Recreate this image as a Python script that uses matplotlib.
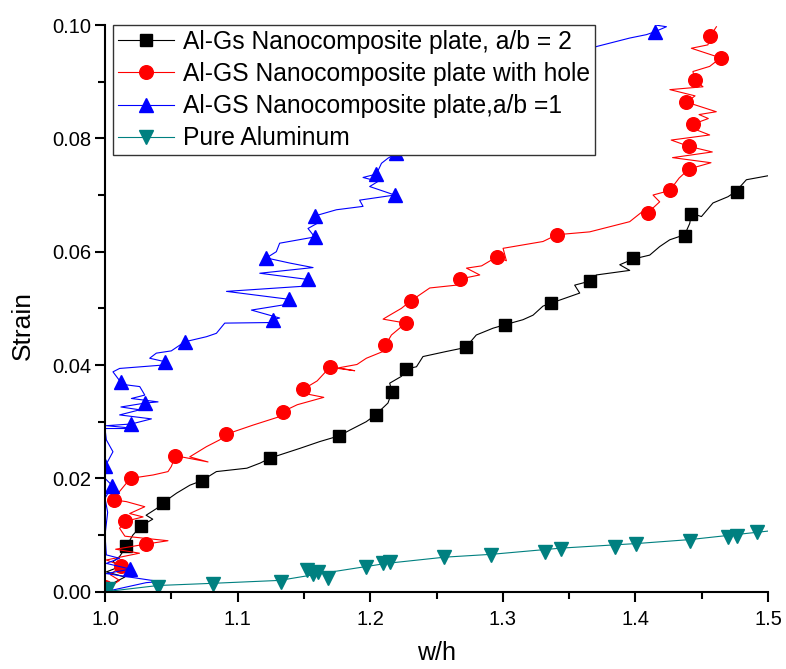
import numpy as np
import matplotlib
matplotlib.use('Agg')
import matplotlib.pyplot as plt
from matplotlib.ticker import MultipleLocator

plt.rcParams['font.family'] = ['Liberation Sans', 'DejaVu Sans']

# Al-Gs plate a/b = 2 (black squares)
black_x = [1.000, 1.006, 1.015, 1.001, 1.011, 1.006, 1.011, 1.016, 1.021, 1.0274, 1.036, 1.031, 1.039, 1.0437,
           1.054, 1.064, 1.073, 1.084, 1.107, 1.117, 1.1247, 1.147, 1.162, 1.1765, 1.1845, 1.197, 1.204, 1.2134,
           1.2164, 1.2147, 1.2235, 1.2273, 1.2349, 1.2398, 1.2575, 1.272, 1.280, 1.2926, 1.3014, 1.3152, 1.3228,
           1.3303, 1.3361, 1.358, 1.3542, 1.3655, 1.3706, 1.3957, 1.3882, 1.3982, 1.4108, 1.4183, 1.4259, 1.4372,
           1.441, 1.4422, 1.4498, 1.4585, 1.4698, 1.4756, 1.4837, 1.500]
black_y = [0.000, 0.0015, 0.0026, 0.0035, 0.0044, 0.0053, 0.0062, 0.0080, 0.0100, 0.01165, 0.0128, 0.0135, 0.0147,
           0.0157, 0.0174, 0.0188, 0.0196, 0.0212, 0.0218, 0.0227, 0.0236, 0.0253, 0.0265, 0.0275, 0.0285, 0.0300,
           0.0312, 0.0333, 0.0353, 0.0368, 0.0380, 0.0393, 0.0397, 0.0415, 0.0424, 0.0431, 0.0453, 0.0465, 0.0471,
           0.0480, 0.0488, 0.0504, 0.0509, 0.0527, 0.0541, 0.0548, 0.0559, 0.0567, 0.0577, 0.0587, 0.0594, 0.0609,
           0.0621, 0.0630, 0.0650, 0.0668, 0.0662, 0.0686, 0.0697, 0.0706, 0.0727, 0.0734]
black_mx = [1.016, 1.0274, 1.0437, 1.073, 1.1247, 1.1765, 1.204, 1.2167, 1.2273, 1.272, 1.3014, 1.3367, 1.3655,
            1.398, 1.4377, 1.4422, 1.4766]
black_my = [0.0080, 0.01165, 0.0157, 0.0196, 0.02355, 0.0275, 0.0312, 0.0353, 0.0393, 0.0431, 0.0471, 0.0509,
            0.0548, 0.0589, 0.0627, 0.0666, 0.0705]

# Al-GS plate with hole (red circles)
red_x = [1.000, 1.003, 1.011, 1.004, 1.0124, 1.001, 1.026, 1.008, 1.0307, 1.0475, 1.015, 1.011, 1.0149, 1.0287,
         1.0186, 1.030, 1.0161, 1.0066, 1.011, 1.0191, 1.0362, 1.0475, 1.050, 1.0531, 1.0777, 1.0639, 1.0765,
         1.0865, 1.0916, 1.1116, 1.1317, 1.1342, 1.145, 1.165, 1.150, 1.1493, 1.160, 1.1695, 1.1883, 1.176, 1.190,
         1.1971, 1.2097, 1.2115, 1.216, 1.2268, 1.2097, 1.2147, 1.2235, 1.2305, 1.2449, 1.265, 1.268, 1.2826,
         1.2726, 1.284, 1.2956, 1.3027, 1.3002, 1.3303, 1.3409, 1.3655, 1.3957, 1.407, 1.4095, 1.4183, 1.4133,
         1.4259, 1.433, 1.4404, 1.457, 1.428, 1.458, 1.4402, 1.427, 1.456, 1.446, 1.4434, 1.455, 1.448, 1.461,
         1.4385, 1.445, 1.426, 1.451, 1.4447, 1.4434, 1.456, 1.4643, 1.4422, 1.4547, 1.4566, 1.4611]
red_y = [0.000, 0.0008, 0.0020, 0.0030, 0.0046, 0.0056, 0.0068, 0.0075, 0.0084, 0.0090, 0.0098, 0.0112, 0.0124,
         0.0132, 0.0138, 0.0150, 0.0159, 0.0162, 0.0177, 0.0200, 0.0206, 0.0212, 0.0221, 0.0240, 0.0229, 0.0238,
         0.0256, 0.0268, 0.0278, 0.0294, 0.0309, 0.0318, 0.0330, 0.0343, 0.0350, 0.0357, 0.0372, 0.0396, 0.0390,
         0.0395, 0.0401, 0.0412, 0.0424, 0.0435, 0.0453, 0.0474, 0.0481, 0.0488, 0.0500, 0.0513, 0.0536, 0.0541,
         0.0552, 0.0559, 0.0571, 0.0575, 0.0591, 0.0584, 0.0606, 0.0618, 0.0630, 0.0635, 0.0653, 0.0674, 0.0669,
         0.0688, 0.0700, 0.0708, 0.0730, 0.0746, 0.0757, 0.0766, 0.0776, 0.0786, 0.0797, 0.0806, 0.0815, 0.0825,
         0.0835, 0.0842, 0.0847, 0.0864, 0.0875, 0.0886, 0.0891, 0.0903, 0.0918, 0.0927, 0.0942, 0.0959, 0.0965,
         0.0981, 0.0997]
red_mx = [1.000, 1.0118, 1.0307, 1.0149, 1.0066, 1.0199, 1.0531, 1.0916, 1.1342, 1.1493, 1.1695, 1.2115, 1.2273,
          1.2305, 1.268, 1.2956, 1.3409, 1.4095, 1.4259, 1.4404, 1.4402, 1.4434, 1.4385, 1.4447, 1.4643, 1.4566]
red_my = [0.0008, 0.0045, 0.0084, 0.0124, 0.0162, 0.0201, 0.0240, 0.0278, 0.0318, 0.0357, 0.0396, 0.0435, 0.0474,
          0.0513, 0.0552, 0.0591, 0.0630, 0.0668, 0.0708, 0.0746, 0.0786, 0.0825, 0.0864, 0.0903, 0.0942, 0.0981]

# Al-GS plate a/b = 1 (blue triangles)
blue_x = [1.000, 1.031, 1.041, 1.001, 1.0191, 1.001, 1.011, 1.001, 1.000, 1.002, 1.000, 1.0056, 1.000, 1.000,
          1.006, 1.001, 1.000, 1.0237, 1.001, 1.0199, 1.035, 1.011, 1.0262, 1.012, 1.0305, 1.040, 1.0199, 1.030,
          1.0262, 1.0161, 1.0118, 1.006, 1.011, 1.0437, 1.045, 1.0337, 1.0387, 1.050, 1.0601, 1.0765, 1.084,
          1.0903, 1.1242, 1.1267, 1.1317, 1.1104, 1.1342, 1.1388, 1.0916, 1.1557, 1.1531, 1.1167, 1.1569, 1.1393,
          1.1217, 1.1292, 1.1317, 1.1581, 1.1531, 1.160, 1.1581, 1.1745, 1.1946, 1.192, 1.2185, 1.1996, 1.2059,
          1.1946, 1.2047, 1.2085, 1.2134, 1.2198, 1.25, 1.30, 1.34, 1.3706, 1.3957, 1.4083, 1.4145, 1.4234, 1.415,
          1.425]
blue_y = [0.000, 0.0016, 0.0018, 0.0032, 0.0040, 0.0050, 0.0059, 0.0065, 0.0100, 0.0140, 0.0165, 0.0187, 0.0200,
          0.0221, 0.0247, 0.0268, 0.0288, 0.0288, 0.0293, 0.0296, 0.0305, 0.0312, 0.0321, 0.0326, 0.0333, 0.0335,
          0.0341, 0.0347, 0.0362, 0.0365, 0.0370, 0.0388, 0.0394, 0.0400, 0.0406, 0.0412, 0.0421, 0.0425, 0.0441,
          0.0450, 0.0456, 0.0474, 0.0475, 0.0480, 0.0483, 0.0497, 0.0506, 0.0516, 0.0530, 0.0540, 0.0551, 0.0562,
          0.0572, 0.0580, 0.0589, 0.0600, 0.0615, 0.0626, 0.0641, 0.0650, 0.0663, 0.0674, 0.0680, 0.0691, 0.0700,
          0.0715, 0.0724, 0.0731, 0.0737, 0.0756, 0.0765, 0.0774, 0.0820, 0.0880, 0.0930, 0.0962, 0.0977, 0.0983,
          0.0988, 0.0997, 0.1000, 0.1003]
blue_mx = [1.0191, 1.0056, 1.000, 1.0199, 1.0305, 1.0118, 1.045, 1.0601, 1.1267, 1.1388, 1.1531, 1.1217, 1.1581,
           1.1581, 1.2185, 1.2047, 1.2198, 1.4145]
blue_my = [0.0040, 0.0187, 0.0221, 0.0296, 0.0333, 0.0370, 0.0406, 0.0441, 0.0480, 0.0516, 0.0551, 0.0589, 0.0626,
           0.0663, 0.0700, 0.0737, 0.0774, 0.0988]

# Pure aluminum (teal down triangles)
teal_x = [1.000, 1.040, 1.0827, 1.1317, 1.160, 1.2122, 1.2562, 1.2914, 1.3442, 1.4007, 1.441, 1.500]
teal_y = [0.000, 0.0011, 0.0015, 0.0020, 0.0031, 0.0050, 0.0061, 0.0066, 0.0077, 0.0085, 0.0092, 0.0107]
teal_mx = [1.002, 1.040, 1.0814, 1.1325, 1.152, 1.157, 1.161, 1.168, 1.1966, 1.2097, 1.2147, 1.2557, 1.2914,
           1.3316, 1.3442, 1.3844, 1.4007, 1.4415, 1.4698, 1.4766, 1.492]
teal_my = [0.0004, 0.0009, 0.0013, 0.0017, 0.0038, 0.0032, 0.0034, 0.0024, 0.0043, 0.0050, 0.0053, 0.0061, 0.0065,
           0.0070, 0.0075, 0.0079, 0.0085, 0.0090, 0.0096, 0.0099, 0.0105]

labels = ['Al-Gs Nanocomposite plate, a/b = 2',
          'Al-GS Nanocomposite plate with hole',
          'Al-GS Nanocomposite plate,a/b =1',
          'Pure Aluminum']

fig = plt.figure(figsize=(7.86, 6.69), dpi=100)
ax = fig.add_axes([0.1336, 0.1155, 0.8435, 0.8471])

series = [
    (black_x, black_y, black_mx, black_my, 'black', 's', 8.4),
    (red_x, red_y, red_mx, red_my, 'red', 'o', 9.8),
    (blue_x, blue_y, blue_mx, blue_my, 'blue', '^', 10),
    (teal_x, teal_y, teal_mx, teal_my, '#008080', 'v', 9.6),
]
handles = []
for (lx, ly, mx, my, c, m, ms), lab in zip(series, labels):
    ax.plot(lx, ly, color=c, lw=0.8)
    ax.plot(mx, my, ls='none', marker=m, ms=ms, color=c, mec=c)
    # proxy for the legend: line + marker
    h, = ax.plot([], [], color=c, lw=0.8, marker=m, ms=ms, mec=c, label=lab)
    handles.append(h)

ax.set_xlim(1.0, 1.5)
ax.set_ylim(0.0, 0.1)
ax.xaxis.set_major_locator(MultipleLocator(0.1))
ax.xaxis.set_minor_locator(MultipleLocator(0.05))
ax.yaxis.set_major_locator(MultipleLocator(0.02))
ax.yaxis.set_minor_locator(MultipleLocator(0.01))
ax.xaxis.set_major_formatter(matplotlib.ticker.FormatStrFormatter('%.1f'))
ax.yaxis.set_major_formatter(matplotlib.ticker.FormatStrFormatter('%.2f'))

for s in ['top', 'right']:
    ax.spines[s].set_visible(False)
for s in ['left', 'bottom']:
    ax.spines[s].set_linewidth(1.5)
ax.tick_params(which='major', direction='out', length=7, width=1.5, labelsize=14.5, pad=3)
ax.tick_params(which='minor', direction='out', length=5, width=1.5)
ax.tick_params(axis='x', which='major', pad=6)

ax.set_xlabel('w/h', fontsize=18, labelpad=9)
ax.set_ylabel('Strain', fontsize=19, labelpad=12, y=0.47)

leg = ax.legend(handles=handles, loc='upper left', bbox_to_anchor=(0.012, 1.0), fontsize=17.7,
                frameon=True, fancybox=False, framealpha=1, edgecolor='#333333',
                handlelength=2.3, handletextpad=0.35, labelspacing=0.33, borderpad=0.2,
                borderaxespad=0.0)
leg.get_frame().set_linewidth(1.0)

fig.savefig('out.png', dpi=100)
